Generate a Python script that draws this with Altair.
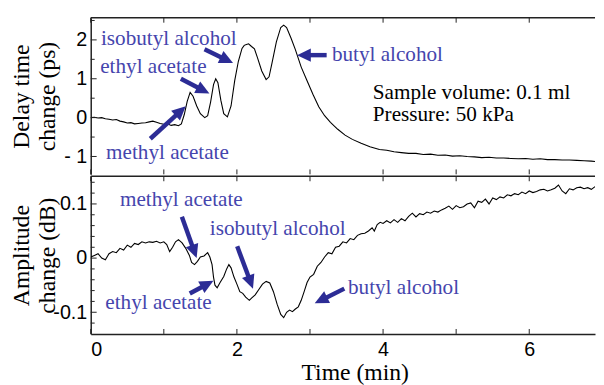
import math
import altair as alt
import pandas as pd

# ---------------- data ----------------
# Upper panel: delay time change (ps) vs time (min)
TOP_T = [0.00, 0.05, 0.10, 0.15, 0.20, 0.25, 0.30, 0.35, 0.40, 0.45, 0.50, 0.55, 0.60, 0.65, 0.70,
         0.75, 0.80, 0.85, 0.90, 0.95, 1.00, 1.05, 1.10, 1.15, 1.20, 1.24, 1.28, 1.32, 1.36, 1.40,
         1.45, 1.50, 1.56, 1.60, 1.64, 1.68, 1.71, 1.74, 1.78, 1.82, 1.87, 1.92, 1.97, 2.02, 2.07,
         2.10, 2.13, 2.16, 2.20, 2.24, 2.28, 2.34, 2.40, 2.44, 2.48, 2.54, 2.60, 2.64, 2.68, 2.74,
         2.80, 2.88, 2.96, 3.04, 3.12, 3.20, 3.28, 3.38, 3.48, 3.58, 3.70, 3.82, 3.95, 4.05, 4.15,
         4.25, 4.35, 4.45, 4.55, 4.65, 4.75, 4.85, 4.95, 5.05, 5.15, 5.25, 5.35, 5.45, 5.55, 5.65,
         5.75, 5.85, 5.95, 6.05, 6.15, 6.25, 6.35, 6.45, 6.55, 6.65, 6.75, 6.85, 6.90]
TOP_V = [0.00, 0.01, -0.01, 0.00, -0.03, -0.04, -0.06, -0.05, -0.09, -0.11, -0.14, -0.13, -0.16, -0.15, -0.14,
         -0.13, -0.11, -0.09, -0.12, -0.15, -0.17, -0.16, -0.20, -0.18, -0.21, -0.16, 0.08, 0.42, 0.65, 0.55,
         0.30, 0.10, 0.00, 0.05, 0.40, 0.85, 1.00, 0.90, 0.45, 0.10, 0.02, 0.30, 0.95, 1.45, 1.78,
         1.86, 1.88, 1.90, 1.83, 1.77, 1.55, 1.20, 0.98, 1.05, 1.40, 1.95, 2.32, 2.38, 2.32, 2.05,
         1.75, 1.30, 0.95, 0.60, 0.28, 0.05, -0.12, -0.30, -0.45, -0.56, -0.66, -0.75, -0.82, -0.84, -0.88,
         -0.90, -0.92, -0.92, -0.95, -0.94, -0.97, -0.96, -0.99, -0.98, -1.00, -1.01, -1.03, -1.02, -1.04, -1.04,
         -1.05, -1.06, -1.05, -1.07, -1.06, -1.08, -1.08, -1.09, -1.09, -1.10, -1.11, -1.12, -1.13]

# Lower panel: amplitude change (dB) vs time (min)
BOT_T = [0.00, 0.05, 0.10, 0.15, 0.20, 0.25, 0.30, 0.35, 0.40, 0.45, 0.50, 0.55, 0.60, 0.65, 0.70,
         0.75, 0.80, 0.85, 0.90, 0.95, 1.00, 1.04, 1.08, 1.12, 1.16, 1.20, 1.25, 1.30, 1.35, 1.38,
         1.42, 1.46, 1.50, 1.55, 1.60, 1.63, 1.66, 1.68, 1.70, 1.73, 1.77, 1.82, 1.86, 1.89, 1.92,
         1.96, 2.00, 2.04, 2.08, 2.12, 2.17, 2.20, 2.25, 2.30, 2.35, 2.40, 2.45, 2.50, 2.55, 2.60,
         2.64, 2.68, 2.72, 2.76, 2.80, 2.84, 2.88, 2.92, 2.96, 3.00, 3.05, 3.10, 3.15,
         3.20, 3.25, 3.30, 3.35, 3.40, 3.45, 3.50, 3.55, 3.60, 3.65, 3.70, 3.75, 3.80, 3.85, 3.88,
         3.92, 3.96, 4.00, 4.05, 4.10, 4.15, 4.20, 4.25, 4.30, 4.35, 4.40, 4.45, 4.50, 4.55, 4.60,
         4.65, 4.70, 4.75, 4.80, 4.85, 4.90, 4.95, 5.00, 5.05, 5.10, 5.15, 5.20, 5.25, 5.30, 5.35,
         5.40, 5.45, 5.50, 5.55, 5.60, 5.65, 5.70, 5.75, 5.80, 5.85, 5.90, 5.95, 6.00, 6.05, 6.10,
         6.15, 6.20, 6.25, 6.30, 6.35, 6.40, 6.45, 6.50, 6.55, 6.60, 6.65, 6.70, 6.75, 6.80, 6.85,
         6.90]
BOT_V = [0.002, 0.005, 0.008, 0.000, -0.003, 0.008, 0.012, 0.010, 0.018, 0.015, 0.024, 0.020, 0.027, 0.025, 0.030,
         0.028, 0.030, 0.029, 0.031, 0.028, 0.030, 0.025, 0.012, 0.020, 0.030, 0.034, 0.028, 0.018, 0.005, -0.008,
         -0.012, -0.006, 0.002, 0.004, 0.010, 0.002, -0.012, -0.035, -0.050, -0.055, -0.045, -0.034, -0.020, -0.012, -0.018,
         -0.035, -0.048, -0.062, -0.065, -0.072, -0.078, -0.074, -0.068, -0.058, -0.048, -0.043, -0.046, -0.062, -0.085, -0.104,
         -0.110, -0.100, -0.096, -0.099, -0.094, -0.090, -0.078, -0.062, -0.045, -0.035, -0.030, -0.015, -0.008,
         0.002, 0.010, 0.008, 0.020, 0.022, 0.030, 0.028, 0.036, 0.034, 0.042, 0.045, 0.046, 0.050, 0.056, 0.050,
         0.062, 0.066, 0.064, 0.069, 0.065, 0.071, 0.066, 0.073, 0.069, 0.077, 0.083, 0.076, 0.082, 0.080, 0.085,
         0.083, 0.087, 0.085, 0.089, 0.092, 0.096, 0.090, 0.097, 0.093, 0.095, 0.100, 0.102, 0.093, 0.105, 0.103,
         0.109, 0.100, 0.111, 0.108, 0.113, 0.111, 0.117, 0.115, 0.119, 0.117, 0.122, 0.119, 0.124, 0.121, 0.123,
         0.126, 0.127, 0.124, 0.126, 0.129, 0.135, 0.124, 0.119, 0.128, 0.126, 0.130, 0.131, 0.128, 0.130, 0.127,
         0.132]

# Axis ticks / labels
X_TICKS = [0, 1, 2, 3, 4, 5, 6]
X_LABEL_VALUES = [0, 2, 4, 6]
TOP_Y_MAJOR = [2, 1, 0, -1]
TOP_Y_LABELS = ["2", "1", "0", "- 1"]
TOP_Y_MINOR = [2.5, 1.5, 0.5, -0.5]
BOT_Y_MAJOR = [0.1, 0, -0.1]
BOT_Y_LABELS = ["0.1", "0", "-0.1"]
BOT_Y_MINOR = [0.14, 0.12, 0.08, 0.06, 0.04, 0.02, -0.02, -0.04, -0.06, -0.08, -0.12]

# Annotations (text anchored at its left edge)
TOP_NOTE_TEXT = ["isobutyl alcohol", "ethyl acetate", "methyl acetate", "butyl alcohol",
                 "Sample volume: 0.1 ml", "Pressure: 50 kPa"]
TOP_NOTE_T = [0.14, 0.13, 0.21, 3.30, 3.86, 3.86]
TOP_NOTE_V = [2.01, 1.30, -0.92, 1.61, 0.62, 0.06]
TOP_NOTE_KIND = ["compound", "compound", "compound", "compound", "condition", "condition"]

BOT_NOTE_TEXT = ["methyl acetate", "isobutyl alcohol", "ethyl acetate", "butyl alcohol"]
BOT_NOTE_T = [0.40, 1.63, 0.20, 3.52]
BOT_NOTE_V = [0.107, 0.053, -0.084, -0.056]
BOT_NOTE_KIND = ["compound"] * 4

# Arrows: tail -> head
TOP_ARROW_T0 = [1.557, 1.233, 0.815, 3.228]
TOP_ARROW_V0 = [1.76, 1.00, -0.544, 1.608]
TOP_ARROW_T1 = [1.947, 1.624, 1.300, 2.823]
TOP_ARROW_V1 = [1.405, 0.62, 0.29, 1.608]

BOT_ARROW_T0 = [1.247, 2.004, 1.355, 3.470]
BOT_ARROW_V0 = [0.0764, 0.0218, -0.0655, -0.0564]
BOT_ARROW_T1 = [1.449, 2.220, 1.679, 3.065]
BOT_ARROW_V1 = [0.000, -0.0564, -0.0418, -0.0836]

# ---------------- layout / style ----------------
W = 512
H_TOP = 159
H_BOT = 160
X_DOMAIN = [0, 6.9]
TOP_DOMAIN = [-1.46, 2.57]
BOT_DOMAIN = [-0.14, 0.151]

SERIF = "Liberation Serif"
SANS = "Liberation Sans"
TEXT_BLUE = "#4545ad"
ARROW_BLUE = "#2c2c95"
FRAME = "#222222"

PX_T = W / (X_DOMAIN[1] - X_DOMAIN[0])


def label_expr(values, labels):
    expr = "''"
    for v, l in zip(reversed(values), reversed(labels)):
        expr = f"(datum.value == {v} ? '{l}' : {expr})"
    return expr


def arrow_frame(t0s, v0s, t1s, v1s, px_v):
    rows = []
    for t0, v0, t1, v1 in zip(t0s, v0s, t1s, v1s):
        dx = (t1 - t0) * PX_T
        dy = -(v1 - v0) * px_v
        L = math.hypot(dx, dy)
        ang = math.degrees(math.atan2(dy, dx)) % 360
        back = 9.0
        ts = t1 - back * dx / L / PX_T
        vs = v1 + back * dy / L / px_v
        rows.append(dict(t=t0, v=v0, t2=ts, v2=vs, th=t1, vh=v1, ang=ang))
    return pd.DataFrame(rows)


def panel(curve_t, curve_v, ydom, H, ytitle, ymajor, ylabels, yminor,
          notes, arrows, show_x_axis):
    xs = alt.Scale(domain=X_DOMAIN, nice=False, zero=False)
    ys = alt.Scale(domain=ydom, nice=False, zero=False)

    if show_x_axis:
        xaxis = alt.Axis(orient="bottom", values=X_LABEL_VALUES, title="Time (min)", labels=True,
                         labelFont=SANS, labelFontSize=20, labelPadding=6,
                         titleFont=SERIF, titleFontSize=24, titleFontWeight="normal",
                         titleX=268, titleY=46, titleBaseline="alphabetic",
                         titleAlign="center", titleColor="black", labelColor="black")
    else:
        xaxis = None

    yaxis = alt.Axis(orient="left", values=ymajor, labelExpr=label_expr(ymajor, ylabels),
                     title=ytitle, labelFont=SANS, labelFontSize=20, labelPadding=4,
                     labelColor="black",
                     titleFont=SERIF, titleFontSize=24, titleFontWeight="normal",
                     titleAngle=270, titleBaseline="alphabetic", titleAlign="center",
                     titleX=-63, titleY=H / 2, titleLineHeight=26, titleColor="black")

    def X(field):
        return alt.X(field, type="quantitative", scale=xs, axis=xaxis)

    def Y(field):
        return alt.Y(field, type="quantitative", scale=ys, axis=yaxis)

    curve = alt.Chart(pd.DataFrame({"t": curve_t, "v": curve_v})).mark_line(
        color="black", strokeWidth=1.1, clip=True
    ).encode(x=X("t"), y=Y("v"), order="t:Q")

    # top border of the frame
    top_border = alt.Chart(pd.DataFrame({"t": [X_DOMAIN[0]]})).mark_rule(
        color=FRAME, strokeWidth=1.5
    ).encode(x=alt.value(0), x2=alt.value(W), y=alt.value(0))

    xt = pd.DataFrame({"t": X_TICKS})
    top_ticks = alt.Chart(xt).mark_rule(color=FRAME, strokeWidth=1).encode(
        x=X("t"), y=alt.value(0), y2=alt.value(5),
    )
    bot_ticks = alt.Chart(xt).mark_rule(color=FRAME, strokeWidth=1).encode(
        x=X("t"), y=alt.value(H), y2=alt.value(H - 5),
    )
    ymaj = alt.Chart(pd.DataFrame({"v": ymajor})).mark_rule(color=FRAME, strokeWidth=1).encode(
        y=Y("v"), x=alt.value(0), x2=alt.value(6),
    )
    ymin = alt.Chart(pd.DataFrame({"v": yminor})).mark_rule(color=FRAME, strokeWidth=1).encode(
        y=Y("v"), x=alt.value(0), x2=alt.value(4),
    )

    text = alt.Chart(notes).mark_text(
        align="left", baseline="middle", font=SERIF, fontSize=21.5
    ).encode(
        x=X("t"), y=Y("v"),
        text="label:N",
        color=alt.Color("kind:N", scale=alt.Scale(domain=["compound", "condition"],
                                                  range=[TEXT_BLUE, "black"]), legend=None),
    )

    shafts = alt.Chart(arrows).mark_rule(color=ARROW_BLUE, strokeWidth=4.5, strokeCap="butt").encode(
        x=X("t"), y=Y("v"), x2="t2:Q", y2="v2:Q",
    )
    heads = alt.Chart(arrows).mark_point(
        shape="M0,0 L-2,-0.95 L-2,0.95 Z", size=196, filled=True, opacity=1,
        color=ARROW_BLUE, strokeWidth=0,
    ).encode(
        x=X("th"), y=Y("vh"),
        angle=alt.Angle("ang:Q", scale=None),
    )

    return alt.layer(curve, top_border, top_ticks, bot_ticks, ymaj, ymin, text, shafts, heads).properties(
        width=W, height=H
    )


top_notes = pd.DataFrame({"t": TOP_NOTE_T, "v": TOP_NOTE_V, "label": TOP_NOTE_TEXT, "kind": TOP_NOTE_KIND})
bot_notes = pd.DataFrame({"t": BOT_NOTE_T, "v": BOT_NOTE_V, "label": BOT_NOTE_TEXT, "kind": BOT_NOTE_KIND})

top_arrows = arrow_frame(TOP_ARROW_T0, TOP_ARROW_V0, TOP_ARROW_T1, TOP_ARROW_V1,
                         H_TOP / (TOP_DOMAIN[1] - TOP_DOMAIN[0]))
bot_arrows = arrow_frame(BOT_ARROW_T0, BOT_ARROW_V0, BOT_ARROW_T1, BOT_ARROW_V1,
                         H_BOT / (BOT_DOMAIN[1] - BOT_DOMAIN[0]))

top = panel(TOP_T, TOP_V, TOP_DOMAIN, H_TOP, ["Delay time", "change (ps)"],
            TOP_Y_MAJOR, TOP_Y_LABELS, TOP_Y_MINOR, top_notes, top_arrows, False)
bottom = panel(BOT_T, BOT_V, BOT_DOMAIN, H_BOT, ["Amplitude", "change (dB)"],
               BOT_Y_MAJOR, BOT_Y_LABELS, BOT_Y_MINOR, bot_notes, bot_arrows, True)

chart = alt.vconcat(top, bottom, spacing=0).properties(
    padding={"left": 2, "top": 6, "right": 0, "bottom": 0},
    background="white",
).configure_view(stroke=None).configure_axis(
    domainColor=FRAME, domainWidth=1.5, ticks=False, tickSize=0, grid=False,
)

chart.save("out.html", embed_options={"renderer": "svg", "actions": False})
